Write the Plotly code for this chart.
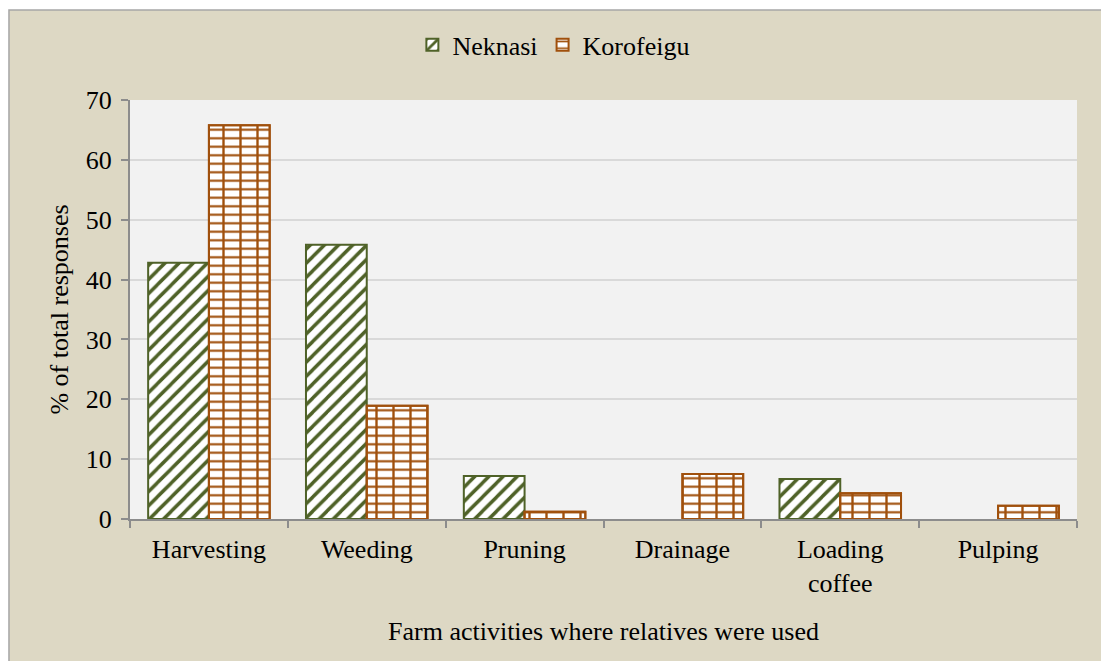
import plotly.graph_objects as go

# Farm activities where relatives were used (% of total responses)
activities = ["Harvesting", "Weeding", "Pruning", "Drainage", "Loading<br>coffee", "Pulping"]
neknasi = [42.8, 45.8, 7.2, 0, 6.7, 0]
korofeigu = [65.8, 18.9, 1.2, 7.5, 4.3, 2.2]
y_ticks = [0, 10, 20, 30, 40, 50, 60, 70]

GREEN = "#4F6228"
ORANGE = "#A0500C"
FONT = "Liberation Serif, Times New Roman, serif"
FS = 26


def outline(values, w=2):
    # no outline for empty bars
    return [w if v > 0 else 0 for v in values]


fig = go.Figure()

fig.add_trace(go.Bar(
    name="Neknasi", x=activities, y=neknasi,
    offset=-0.385, width=0.385,
    marker=dict(color="white", line=dict(color=GREEN, width=outline(neknasi)),
                pattern=dict(shape="/", fgcolor=GREEN, bgcolor="white",
                             size=10, solidity=0.35, fillmode="replace")),
))
# brick courses: horizontal mortar lines
fig.add_trace(go.Bar(
    name="Korofeigu", x=activities, y=korofeigu,
    offset=0, width=0.385,
    marker=dict(color="white", line=dict(color=ORANGE, width=outline(korofeigu)),
                pattern=dict(shape="-", fgcolor=ORANGE, bgcolor="white",
                             size=8.5, solidity=0.25, fillmode="replace")),
))
# brick joints: vertical mortar lines
fig.add_trace(go.Bar(
    name="Korofeigu", x=activities, y=korofeigu, showlegend=False,
    offset=0, width=0.385, hoverinfo="skip",
    marker=dict(color="rgba(0,0,0,0)", line=dict(color=ORANGE, width=outline(korofeigu)),
                pattern=dict(shape="|", fgcolor=ORANGE, bgcolor="rgba(0,0,0,0)",
                             size=17, solidity=0.14, fillmode="replace")),
))

fig.update_layout(
    width=1101, height=661,
    barmode="overlay",
    paper_bgcolor="white",
    plot_bgcolor="#F2F2F2",
    font=dict(family=FONT, size=FS, color="black"),
    margin=dict(l=130, r=24, t=100, b=142, autoexpand=False),
    legend=dict(orientation="h", x=0.4476, xanchor="center",
                yref="container", y=0.932, yanchor="middle",
                bgcolor="rgba(0,0,0,0)", font=dict(size=FS), itemwidth=30,
                traceorder="normal"),
    shapes=[
        dict(type="rect", xref="paper", yref="paper", layer="below",
             x0=-0.1278, x1=1.03, y0=-0.35, y1=1.2148,
             fillcolor="#DDD8C4", line=dict(color="#A6A6A6", width=1.5)),
        dict(type="rect", xref="paper", yref="paper", layer="below",
             x0=0, x1=1, y0=0, y1=1,
             fillcolor="#F2F2F2", line=dict(width=0)),
    ],
    xaxis=dict(
        showgrid=False, showline=True, linecolor="#8C8C8C", linewidth=2,
        ticks="outside", ticklen=7, tickcolor="#8C8C8C", tickwidth=2,
        tickson="boundaries", ticklabelstandoff=6,
        title=dict(text="Farm activities where relatives were used", standoff=25,
                   font=dict(size=FS)),
        tickfont=dict(size=FS),
    ),
    yaxis=dict(
        range=[0, 70], tickvals=y_ticks, showgrid=True, gridcolor="#D9D9D9", gridwidth=1.5,
        showline=True, linecolor="#8C8C8C", linewidth=2,
        ticks="outside", ticklen=7, tickcolor="#8C8C8C", tickwidth=2,
        ticklabelstandoff=4,
        title=dict(text="% of total responses", standoff=10, font=dict(size=FS)),
        tickfont=dict(size=FS), zeroline=False,
    ),
)

fig.write_html("out.html")
